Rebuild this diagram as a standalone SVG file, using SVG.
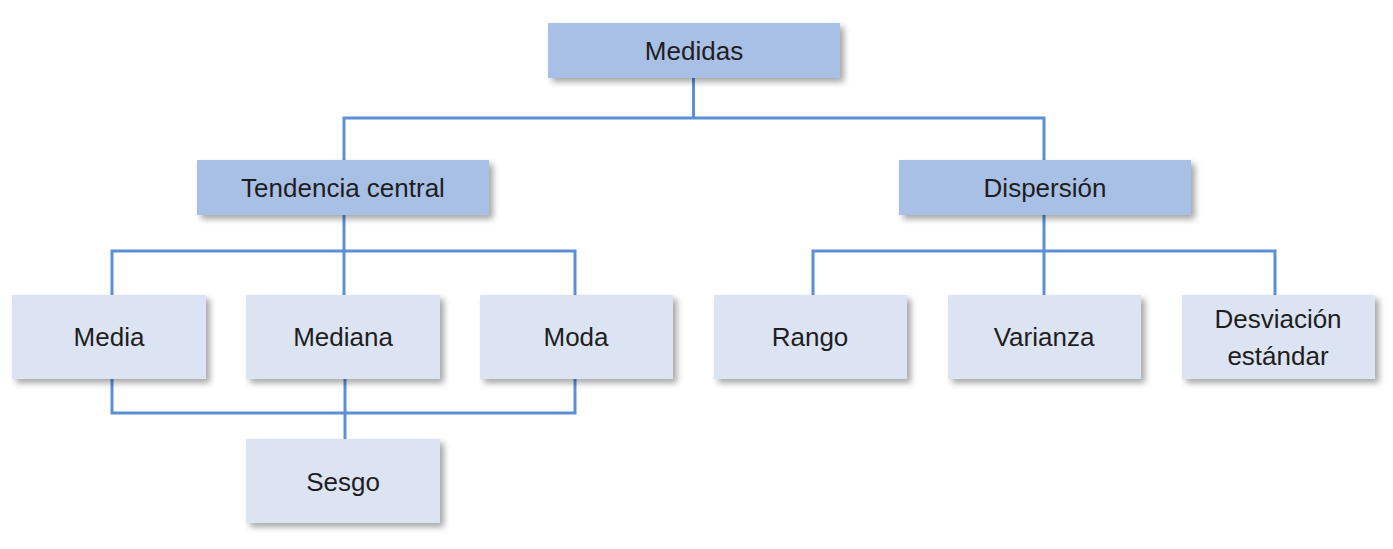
<svg xmlns="http://www.w3.org/2000/svg" width="1393" height="549" viewBox="0 0 1393 549">
<style>
.top{fill:#a8bfe6;filter:url(#sh)}
.leaf{fill:#dce3f3;filter:url(#sh)}
text{font-family:"Liberation Sans",Arial,sans-serif;font-size:26px;fill:#1e1e1e;text-anchor:middle}
.c path{fill:none;stroke:#5b8fd6;stroke-width:3}
</style>
<defs>
<filter id="sh" x="-10%" y="-20%" width="130%" height="150%">
<feDropShadow dx="4" dy="4" stdDeviation="3" flood-color="#000" flood-opacity="0.35"/>
</filter>
</defs>
<rect width="1393" height="549" fill="#fff"/>
<g class="c" id="connectors">
<path d="M693.5 78V118M344 160V118H1044V160"/>
<path d="M344 215V251M112 295V251H575V295M344 251V295"/>
<path d="M1044 215V251M813 295V251H1275V295M1044 251V295"/>
<path d="M112 379V413H575V379M345 379V439"/>
</g>
<g id="n-medidas"><rect class="top" x="548" y="23" width="292" height="55"/><text x="694" y="60">Medidas</text></g>
<g id="n-tendencia"><rect class="top" x="197" y="160" width="292" height="55"/><text x="343" y="197">Tendencia central</text></g>
<g id="n-dispersion"><rect class="top" x="899" y="160" width="292" height="55"/><text x="1045" y="197">Dispersión</text></g>
<g id="n-media"><rect class="leaf" x="12" y="295" width="194" height="84"/><text x="109" y="346">Media</text></g>
<g id="n-mediana"><rect class="leaf" x="246" y="295" width="194" height="84"/><text x="343" y="346">Mediana</text></g>
<g id="n-moda"><rect class="leaf" x="480" y="295" width="193" height="84"/><text x="576" y="346">Moda</text></g>
<g id="n-rango"><rect class="leaf" x="714" y="295" width="193" height="84"/><text x="810" y="346">Rango</text></g>
<g id="n-varianza"><rect class="leaf" x="948" y="295" width="193" height="84"/><text x="1044" y="346">Varianza</text></g>
<g id="n-desviacion"><rect class="leaf" x="1182" y="295" width="193" height="84"/><text x="1278" y="328">Desviación</text><text x="1278" y="365">estándar</text></g>
<g id="n-sesgo"><rect class="leaf" x="246" y="439" width="194" height="84"/><text x="343" y="491">Sesgo</text></g>
</svg>
